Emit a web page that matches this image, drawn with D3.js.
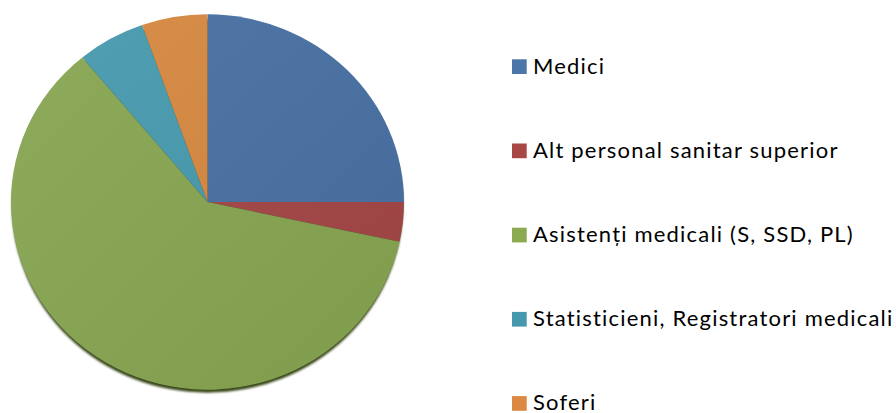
<!DOCTYPE html>
<html>
<head>
<meta charset="utf-8">
<script src="https://cdn.jsdelivr.net/npm/d3@7"></script>
<style>
  body { margin: 0; background: #fff; }
  svg { display: block; }
</style>
</head>
<body>
<div id="chart"></div>
<script>
const categories = ['Medici', 'Alt personal sanitar superior', 'Asistenți medicali (S, SSD, PL)', 'Statisticieni, Registratori medicali', 'Soferi']
const values = [25, 3.4, 60.6, 5.6, 5.4]
const colors = ['#4770a3', '#a44545', '#87a551', '#4699ad', '#d6883f']
const legendColors = ['#4a76aa', '#a94746', '#8ba94f', '#4698ae', '#db8842']

const width = 896, height = 413
const cx = 207.5, cy = 202, r = 196.5, squash = 0.955

const svg = d3.select('#chart').append('svg')
    .attr('width', width)
    .attr('height', height)

const defs = svg.append('defs')
defs.append('filter').attr('id', 'blur')
    .append('feGaussianBlur').attr('stdDeviation', 1.2)
let shade = defs.append('linearGradient').attr('id', 'shade')
    .attr('x1', 0).attr('y1', 0).attr('x2', 1).attr('y2', 1)
shade.append('stop').attr('offset', '0%').attr('stop-color', '#fff').attr('stop-opacity', 0.06)
shade.append('stop').attr('offset', '100%').attr('stop-color', '#000').attr('stop-opacity', 0.06)

let pieGen = d3.pie().sort(null).value((d) => d)
let arcs = pieGen(values)
let arcGen = d3.arc().innerRadius(0).outerRadius(r)

// shadow under the disc
svg.append('ellipse')
    .attr('cx', cx)
    .attr('cy', cy + 4)
    .attr('rx', r - 1)
    .attr('ry', r * squash - 1)
    .attr('fill', '#3a4a1c')
    .attr('filter', 'url(#blur)')

let g = svg.append('g')
    .attr('transform', `translate(${cx}, ${cy}) scale(1, ${squash})`)

g.selectAll('.slice')
    .data(arcs)
    .enter().append('path')
    .attr('class', 'slice')
    .attr('d', arcGen)
    .attr('fill', (d, i) => colors[i])

g.append('circle')
    .attr('r', r)
    .attr('fill', 'url(#shade)')

// legend
let legend = svg.append('g').attr('class', 'legend')
let rowStep = 84.2
let row = legend.selectAll('.row')
    .data(categories)
    .enter().append('g')
    .attr('class', 'row')
    .attr('transform', (d, i) => `translate(512, ${59.3 + i * rowStep})`)

row.append('rect')
    .attr('width', 14.7)
    .attr('height', 14.7)
    .attr('fill', (d, i) => legendColors[i])

let labels = row.append('text')
    .attr('x', 21)
    .attr('y', 14.3)
    .attr('font-family', 'Lato, "Open Sans", sans-serif')
    .attr('font-size', 22)
    .attr('fill', '#000')
    .text((d) => d)

// widen spacing so the longest label spans about 360px like the original
let longest = labels.nodes()[3]
let w = longest.getComputedTextLength()
let ls = (360 - w) / (categories[3].length - 1)
labels.attr('letter-spacing', ls)
</script>
</body>
</html>
